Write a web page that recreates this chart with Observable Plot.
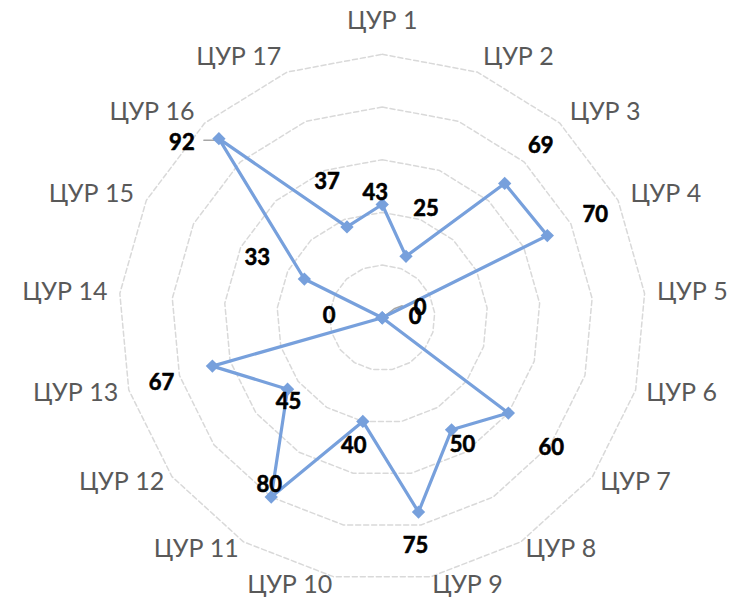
<!DOCTYPE html>
<html>
<head>
<meta charset="utf-8">
<script src="https://cdn.jsdelivr.net/npm/d3@7"></script>
<script src="https://cdn.jsdelivr.net/npm/@observablehq/plot@0.6"></script>
<style>
html, body { margin: 0; padding: 0; background: #fff; }
#chart svg { display: block; }
</style>
</head>
<body>
<div id="chart"></div>
<script>
// ---- data ----
const categories = ["ЦУР 1","ЦУР 2","ЦУР 3","ЦУР 4","ЦУР 5","ЦУР 6","ЦУР 7","ЦУР 8","ЦУР 9",
                    "ЦУР 10","ЦУР 11","ЦУР 12","ЦУР 13","ЦУР 14","ЦУР 15","ЦУР 16","ЦУР 17"];
const values = [43, 25, 69, 70, 0, 0, 60, 50, 75, 40, 80, 45, 67, 0, 33, 92, 37];
const gridLevels = [20, 40, 60, 80, 100];

// ---- label nudges (pixels, relative to each point) ----
const labelNudge = [[-7,-12],[20,-47],[36,-37],[48,-21],[38,-10],[33,-1],[43,35],[11,15],[-3,34],
                    [-9,25],[-2,-12],[1,13],[-51,17],[-53,-2],[-47,-21],[-37,4],[-20,-45]];
// leader lines (pixel offsets relative to the point of the given category index)
const leaderDefs = [
  {idx: 15, path: [[-15, 1.5], [-2, 1.5]]},
  {idx: 4,  path: [[4, -3], [12, -9], [20, -12]]}
];

// ---- layout ----
const W = 736, H = 600, cx = 381.7, cy = 317.3, R = 263.5;
const PX = R / 100;
const n = categories.length;
const ang = i => 2 * Math.PI * i / n;
const pos = (i, v) => [v * Math.sin(ang(i)), v * Math.cos(ang(i))];

const ring = gridLevels.flatMap(l => d3.range(n + 1).map(i => {
  const [x, y] = pos(i % n, l); return {level: l, x, y};
}));
const pts = values.map((v, i) => { const [x, y] = pos(i, v); return {cat: categories[i], v, x, y}; });
const loop = [...pts, pts[0]];
const labels = pts.map((p, i) => ({text: String(p.v), x: p.x + labelNudge[i][0] / PX, y: p.y - labelNudge[i][1] / PX}));
const leaders = leaderDefs.flatMap((d, k) => d.path.map(([dx, dy]) => ({
  k, x: pts[d.idx].x + dx / PX, y: pts[d.idx].y - dy / PX
})));
const axisLab = categories.map((c, i) => {
  const s = Math.sin(ang(i)), co = Math.cos(ang(i));
  const mid = Math.abs(s) < 0.05;
  const r = mid ? 112.7 : 104.6 + 1.5 * co;
  return {c, x: r * s, y: r * co, side: mid ? "middle" : (s > 0 ? "start" : "end")};
});

const blue = "#77a0dc";

const chart = Plot.plot({
  width: W, height: H,
  marginLeft: cx - R, marginRight: W - cx - R,
  marginTop: cy - R, marginBottom: H - cy - R,
  x: {domain: [-100, 100], axis: null},
  y: {domain: [-100, 100], axis: null},
  style: {fontFamily: "Lato, sans-serif", background: "white", overflow: "visible"},
  marks: [
    Plot.line(ring, {x: "x", y: "y", z: "level", stroke: "#d9d9d9", strokeWidth: 1.5, strokeDasharray: "5,3"}),
    Plot.line(leaders, {x: "x", y: "y", z: "k", stroke: "#a6a6a6", strokeWidth: 1.5}),
    Plot.line(loop, {x: "x", y: "y", stroke: blue, strokeWidth: 3.2}),
    Plot.dot(pts, {x: "x", y: "y", symbol: "diamond2", r: 6, fill: blue}),
    Plot.text(labels, {x: "x", y: "y", text: "text", fontWeight: "bold", fontSize: 22, fill: "#000",
                       stroke: "#000", strokeWidth: 0.6}),
    ...["start", "middle", "end"].map(a =>
      Plot.text(axisLab.filter(d => d.side === a), {x: "x", y: "y", text: "c", textAnchor: a, fontSize: 25, fill: "#595959"}))
  ]
});
document.getElementById("chart").appendChild(chart);
</script>
</body>
</html>
